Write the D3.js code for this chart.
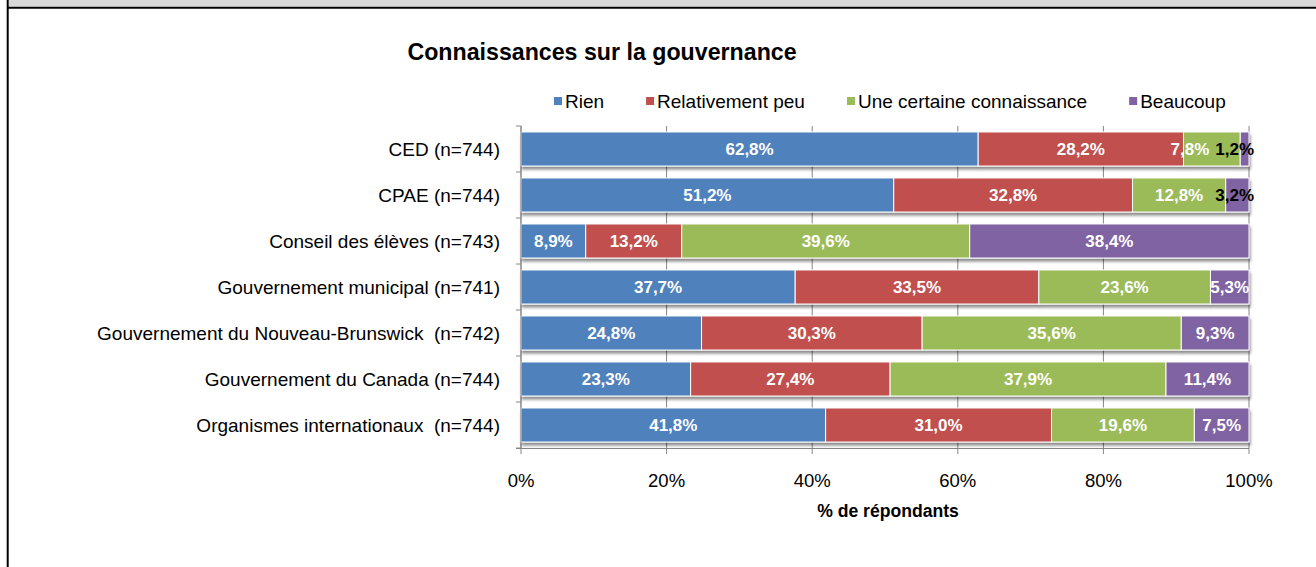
<!DOCTYPE html>
<html>
<head>
<meta charset="utf-8">
<script src="https://cdn.jsdelivr.net/npm/d3@7"></script>
<style>
  body { margin: 0; background: #fff; }
  svg { display: block; font-family: Arial, "Liberation Sans", sans-serif; }
</style>
</head>
<body>
<svg id="chart" width="1316" height="567"></svg>
<script>
var categories = [
  "CED (n=744)",
  "CPAE (n=744)",
  "Conseil des élèves (n=743)",
  "Gouvernement municipal (n=741)",
  "Gouvernement du Nouveau-Brunswick  (n=742)",
  "Gouvernement du Canada (n=744)",
  "Organismes internationaux  (n=744)"
];
var seriesNames = ["Rien", "Relativement peu", "Une certaine connaissance", "Beaucoup"];
var rien       = [62.8, 51.2, 8.9, 37.7, 24.8, 23.3, 41.8];
var peu        = [28.2, 32.8, 13.2, 33.5, 30.3, 27.4, 31.0];
var certaine   = [7.8, 12.8, 39.6, 23.6, 35.6, 37.9, 19.6];
var beaucoup   = [1.2, 3.2, 38.4, 5.3, 9.3, 11.4, 7.5];
var xTicks = [0, 0.2, 0.4, 0.6, 0.8, 1];
var colors = ["#4f81bd", "#c0504d", "#9bbb59", "#8064a2"];

var svg = d3.select("#chart");

// frame
svg.append("rect").attr("x", 8.7).attr("y", 0).attr("width", 1316).attr("height", 6.7).attr("fill", "#d9d9d9");
svg.append("line").attr("x1", 7).attr("x2", 1316).attr("y1", 7.7).attr("y2", 7.7).attr("stroke", "#000").attr("stroke-width", 2);
svg.append("line").attr("x1", 7.7).attr("x2", 7.7).attr("y1", 0).attr("y2", 567).attr("stroke", "#000").attr("stroke-width", 2);

var defs = svg.append("defs");
var filt = defs.append("filter").attr("id", "shadow")
    .attr("x", "-5%").attr("y", "-20%").attr("width", "110%").attr("height", "160%");
filt.append("feDropShadow")
    .attr("dx", 1).attr("dy", 3).attr("stdDeviation", 1.6)
    .attr("flood-color", "#000").attr("flood-opacity", 0.45);

var data = categories.map(function(c, i) {
  return {cat: c, "Rien": rien[i], "Relativement peu": peu[i],
          "Une certaine connaissance": certaine[i], "Beaucoup": beaucoup[i]};
});

var x = d3.scaleLinear().domain([0, 1]).range([521, 1249]);
var y = d3.scaleBand().domain(categories).range([126, 448]).paddingInner(0.26).paddingOuter(0.13);
var z = d3.scaleOrdinal().domain(seriesNames).range(colors);

var stacked = d3.stack().keys(seriesNames).offset(d3.stackOffsetExpand)(data);

// title
svg.append("text")
    .attr("x", 602).attr("y", 52).attr("dy", "0.35em")
    .attr("text-anchor", "middle")
    .attr("font-size", 23.2).attr("font-weight", "bold")
    .text("Connaissances sur la gouvernance");

// gridlines (extend below axis as ticks)
svg.append("g").selectAll("line")
    .data(xTicks)
    .enter().append("line")
      .attr("x1", function(d) { return x(d); })
      .attr("x2", function(d) { return x(d); })
      .attr("y1", 126).attr("y2", 454)
      .attr("stroke", "#868686").attr("stroke-width", 1);

// bars
var rows = svg.append("g").selectAll("g")
    .data(categories)
    .enter().append("g")
      .attr("filter", "url(#shadow)");

rows.each(function(cat, ci) {
  d3.select(this).selectAll("rect")
    .data(stacked.map(function(s) { return {key: s.key, v: s[ci]}; }))
    .enter().append("rect")
      .attr("x", function(d) { return x(d.v[0]); })
      .attr("y", y(cat))
      .attr("width", function(d) { return x(d.v[1]) - x(d.v[0]); })
      .attr("height", y.bandwidth())
      .attr("fill", function(d) { return z(d.key); })
      .attr("stroke", "#fff")
      .attr("stroke-width", 1);
});

// axes
svg.append("line").attr("x1", 516).attr("x2", 1249).attr("y1", 448.5).attr("y2", 448.5).attr("stroke", "#868686");
svg.append("line").attr("x1", 521).attr("x2", 521).attr("y1", 126).attr("y2", 449).attr("stroke", "#868686");
svg.append("g").selectAll("line")
    .data(d3.range(categories.length + 1))
    .enter().append("line")
      .attr("x1", 516).attr("x2", 521)
      .attr("y1", function(i) { return 126 + i * y.step(); })
      .attr("y2", function(i) { return 126 + i * y.step(); })
      .attr("stroke", "#868686");

svg.append("g")
    .attr("font-size", 19).attr("text-anchor", "end")
  .selectAll("text")
  .data(categories)
  .enter().append("text")
    .attr("x", 500)
    .attr("y", function(d) { return y(d) + y.bandwidth() / 2; })
    .attr("dy", "0.35em")
    .attr("xml:space", "preserve")
    .style("white-space", "pre")
    .text(function(d) { return d; });

svg.append("g")
    .attr("font-size", 18.5).attr("text-anchor", "middle")
  .selectAll("text")
  .data(xTicks)
  .enter().append("text")
    .attr("x", function(d) { return x(d); })
    .attr("y", 481).attr("dy", "0.35em")
    .text(d3.format(".0%"));

svg.append("text")
    .attr("x", 888).attr("y", 511).attr("dy", "0.35em")
    .attr("text-anchor", "middle")
    .attr("font-size", 17.6).attr("font-weight", "bold")
    .text("% de répondants");

// data labels
var fmt = function(v) { return v.toFixed(1).replace(".", ",") + "%"; };
var labelG = svg.append("g").attr("font-size", 17).attr("font-weight", "bold").attr("text-anchor", "middle");
categories.forEach(function(cat, ci) {
  var vals = [rien[ci], peu[ci], certaine[ci], beaucoup[ci]];
  var texts = stacked.map(function(s, si) {
    var seg = s[ci];
    return labelG.append("text")
      .attr("x", (x(seg[0]) + x(seg[1])) / 2)
      .attr("y", y(cat) + y.bandwidth() / 2)
      .attr("dy", "0.36em")
      .attr("fill", vals[si] < 4 ? "#000" : "#fff")
      .text(fmt(vals[si]));
  });
  // keep labels inside the plot and avoid overlaps (right to left)
  var limit = x(1) + 5;
  for (var k = texts.length - 1; k >= 0; k--) {
    var t = texts[k];
    var w = t.node().getComputedTextLength();
    var cx = +t.attr("x");
    if (cx + w / 2 > limit) { cx = limit - w / 2; t.attr("x", cx); }
    limit = cx - w / 2 - 6;
  }
});

// legend
var legend = svg.append("g").attr("font-size", 19);
var lx = 554;
seriesNames.forEach(function(name) {
  legend.append("rect")
      .attr("x", lx).attr("y", 97).attr("width", 8).attr("height", 8)
      .attr("fill", z(name));
  var t = legend.append("text")
      .attr("x", lx + 11).attr("y", 101).attr("dy", "0.35em")
      .text(name);
  lx += 11 + t.node().getComputedTextLength() + 42;
});
</script>
</body>
</html>
